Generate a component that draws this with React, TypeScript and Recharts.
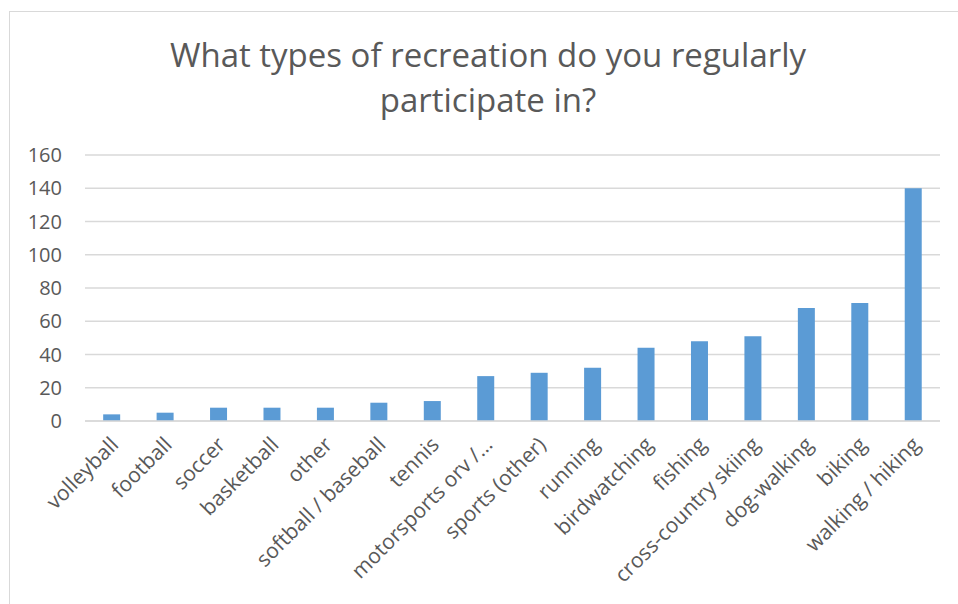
import React from "react";
import { BarChart, Bar, XAxis, YAxis, CartesianGrid } from "recharts";

const categories = [
  "volleyball",
  "football",
  "soccer",
  "basketball",
  "other",
  "softball / baseball",
  "tennis",
  "motorsports orv /…",
  "sports (other)",
  "running",
  "birdwatching",
  "fishing",
  "cross-country skiing",
  "dog-walking",
  "biking",
  "walking / hiking",
];

const responses = [4, 5, 8, 8, 8, 11, 12, 27, 29, 32, 44, 48, 51, 68, 71, 140];

const yTicks = [0, 20, 40, 60, 80, 100, 120, 140, 160];

const FONT = "'Open Sans', sans-serif";
const TEXT = "#595959";

const data = categories.map((name, i) => ({ name, value: responses[i] }));

function AngledTick(props: any) {
  const { x, y, payload } = props;
  const ax = x + 8;
  const ay = y + 17;
  return (
    <text
      x={ax}
      y={ay}
      transform={`rotate(-45, ${ax}, ${ay})`}
      textAnchor="end"
      fill={TEXT}
      fontSize={21}
      fontFamily={FONT}
    >
      {payload.value}
    </text>
  );
}

export default function App() {
  return (
    <div
      style={{
        position: "absolute",
        left: 0,
        top: 0,
        width: 958,
        height: 604,
        overflow: "hidden",
        background: "#fff",
        fontFamily: FONT,
      }}
    >
      <div
        style={{
          position: "absolute",
          left: 9,
          top: 11,
          width: 980,
          height: 620,
          border: "1px solid #d9d9d9",
        }}
      />
      <div
        style={{
          position: "absolute",
          left: 0,
          top: 32,
          width: 976,
          textAlign: "center",
          color: TEXT,
          fontSize: 33,
          lineHeight: "45px",
        }}
      >
        What types of recreation do you regularly
        <br />
        participate in?
      </div>
      <div style={{ position: "absolute", left: 0, top: 0 }}>
        <BarChart
          width={958}
          height={604}
          data={data}
          margin={{ top: 155, right: 18, left: 0, bottom: 0 }}
          barCategoryGap="34%"
        >
          <CartesianGrid vertical={false} stroke="#d9d9d9" strokeWidth={1.3} />
          <XAxis
            dataKey="name"
            interval={0}
            height={183}
            tickLine={false}
            axisLine={{ stroke: "#d9d9d9", strokeWidth: 1.3 }}
            tick={<AngledTick />}
          />
          <YAxis
            width={85}
            domain={[0, 160]}
            ticks={yTicks}
            axisLine={false}
            tickLine={false}
            tickMargin={17}
            tick={{ fill: TEXT, fontSize: 20, fontFamily: FONT }}
          />
          <Bar dataKey="value" fill="#5b9bd5" isAnimationActive={false} />
        </BarChart>
      </div>
    </div>
  );
}
